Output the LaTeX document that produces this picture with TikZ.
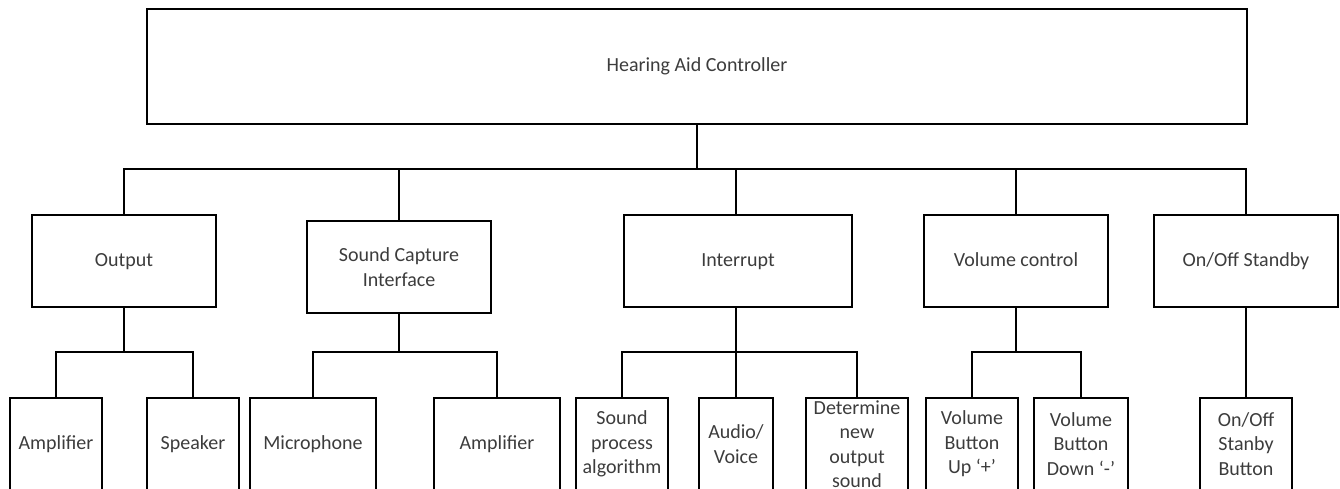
\documentclass[tikz,border=0pt]{standalone}
\usepackage{fontspec}
\setmainfont{Carlito}
\definecolor{txt}{RGB}{60,60,60}
\tikzset{
  box/.style={draw=black, line width=1.8pt, rectangle, inner sep=0pt, align=center,
    text=txt, font=\fontsize{20}{24.4}\selectfont},
  one/.style={text height=13pt, text depth=2pt},
  wire/.style={draw=black, line width=1.8pt},
}
\begin{document}
\begin{tikzpicture}[x=1pt,y=-1pt]
\useasboundingbox (0,0) rectangle (1340,489);
\clip (0,0) rectangle (1340,489);
% root
\node[box, one, minimum width=1100pt, minimum height=115pt] (top) at (697,66.5) {Hearing Aid Controller};
% level 2
\node[box, one, minimum width=184pt, minimum height=92pt] (out) at (124,261) {Output};
\node[box, minimum width=184pt, minimum height=92pt] (sci) at (399,267) {Sound Capture\\Interface};
\node[box, one, minimum width=228pt, minimum height=92pt] (intr) at (738,261) {Interrupt};
\node[box, one, minimum width=184pt, minimum height=92pt] (vol) at (1016,261) {Volume control};
\node[box, one, minimum width=184pt, minimum height=92pt] (onoff) at (1246,261) {On/Off Standby};
% level 3
\node[box, one, minimum width=92pt, minimum height=92pt] (amp1) at (56,444) {Amplifier};
\node[box, one, minimum width=92pt, minimum height=92pt] (spk) at (193,444) {Speaker};
\node[box, one, minimum width=126pt, minimum height=92pt] (mic) at (313,444) {Microphone};
\node[box, one, minimum width=126pt, minimum height=92pt] (amp2) at (497,444) {Amplifier};
\node[box, minimum width=92pt, minimum height=92pt] (spa) at (622,444) {Sound\\process\\algorithm};
\node[box, minimum width=74pt, minimum height=92pt] (av) at (736,444) {Audio/\\Voice};
\node[box, minimum width=102pt, minimum height=92pt] (det) at (857,444) {Determine\\new\\output\\sound};
\node[box, minimum width=92pt, minimum height=92pt] (vup) at (972,444) {Volume\\Button\\Up ‘+’};
\node[box, minimum width=94pt, minimum height=92pt] (vdn) at (1081,444) {Volume\\Button\\Down ‘-’};
\node[box, minimum width=92pt, minimum height=92pt] (osb) at (1246,444) {On/Off\\Stanby\\Button};
% buses
\coordinate (bus) at (697,169);
\coordinate (oB) at (124,352);
\coordinate (sB) at (399,352);
\coordinate (iB) at (736,352);
\coordinate (vB) at (1016,352);
% connectors
\draw[wire] (top.south) -- (bus);
\draw[wire] (out.north) |- (bus);
\draw[wire] (sci.north) |- (bus);
\draw[wire] (intr.north -| iB) |- (bus);
\draw[wire] (vol.north) |- (bus);
\draw[wire] (onoff.north) |- (bus);
\draw[wire] (out.south) -- (oB);
\draw[wire] (amp1.north) |- (oB);
\draw[wire] (spk.north) |- (oB);
\draw[wire] (sci.south) -- (sB);
\draw[wire] (mic.north) |- (sB);
\draw[wire] (amp2.north) |- (sB);
\draw[wire] (intr.south -| iB) -- (av.north);
\draw[wire] (spa.north) |- (iB);
\draw[wire] (det.north) |- (iB);
\draw[wire] (vol.south) -- (vB);
\draw[wire] (vup.north) |- (vB);
\draw[wire] (vdn.north) |- (vB);
\draw[wire] (onoff.south) -- (osb.north);
\end{tikzpicture}
\end{document}
